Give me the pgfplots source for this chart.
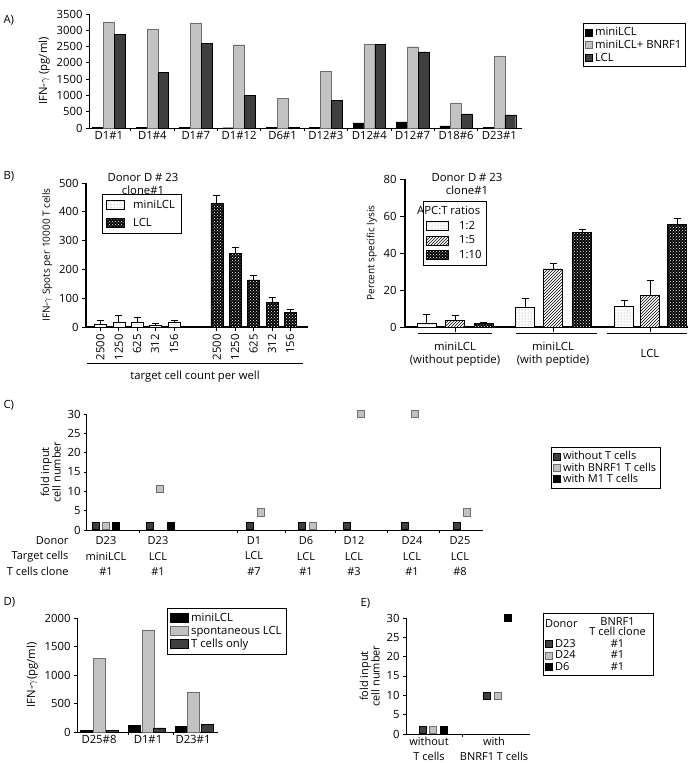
\documentclass[border=0pt]{standalone}
\usepackage{fontspec}
\setmainfont{Open Sans}
\usepackage{pgfplots}
\pgfplotsset{compat=1.18}
\usetikzlibrary{patterns}

\definecolor{lg}{HTML}{C2C2C2}
\definecolor{lgd}{HTML}{6E6E6E}
\definecolor{dg}{HTML}{3F3F3F}
\newcommand\fs{\fontsize{11.3}{13}\selectfont}
\newcommand\fsl{\fontsize{11}{15.5}\selectfont}

\pgfplotsset{
  panel/.style={scale only axis, clip=false, axis x line*=bottom, axis y line*=left,
    axis line style={-, line width=1pt}, tick align=outside, major tick length=4pt,
    tick style={black, line width=0.8pt}, tick label style={font=\fs}, label style={font=\fs},
    /pgf/number format/assume math mode=true, /pgf/number format/set thousands separator={},
    legend style={font=\fs, draw=black, line width=0.8pt, legend cell align=left, inner sep=2pt}},
  box/.style={legend image code/.code={\draw[##1,line width=0.6pt] (0pt,-3.5pt) rectangle (7pt,3.5pt);}},
  bigbox/.style={legend image code/.code={\draw[##1,line width=0.8pt] (0pt,-4.5pt) rectangle (18pt,4.5pt);}},
  widebox/.style={legend image code/.code={\draw[##1,line width=0.8pt] (0pt,-4.5pt) rectangle (22pt,4.5pt);}},
  errs/.style={error bars/.cd, y dir=plus, y explicit,
    error bar style={black, line width=0.8pt}, error mark options={black, line width=0.8pt, mark size=3.5pt, rotate=90}},
  sq/.style={only marks, mark=square*, mark size=3.6pt, forget plot},
}
\tikzset{
  dotfill/.style={fill=white, draw=black, postaction={pattern=dots, pattern color=gray}},
  hatchfill/.style={fill=white, draw=black, postaction={pattern=north east lines}},
  checkfill/.style={fill=black, draw=black, postaction={pattern=crosshatch dots, pattern color=white}},
}
\newcommand\cw[1]{\makebox[64pt]{#1}}

\begin{document}
\begin{tikzpicture}
\useasboundingbox (0,0) rectangle (700pt,-763pt);

% ---------- A
\node[anchor=west,font=\fs] at (0pt,-20pt) {A)};
\begin{axis}[panel, box, at={(89pt,-128pt)}, anchor=south west, width=433pt, height=114pt,
  xmin=-0.46, xmax=9.52, ymin=0, ymax=3500, ytick={0,500,...,3500},
  xtick={0.5,1.5,...,8.5}, xticklabels={}, major tick length=3pt,
  extra x ticks={0,...,9}, extra x tick style={major tick length=0pt},
  extra x tick labels={D1\#1,D1\#4,D1\#7,D1\#12,D6\#1,D12\#3,D12\#4,D12\#7,D18\#6,D23\#1},
  ylabel={IFN-$\gamma$ (pg/ml)},
  legend style={at={(1.141,0.921)}, anchor=north west, row sep=-1pt}]
\addplot[ybar, bar width=0.25, bar shift=0pt, fill=black, draw=black, forget plot] coordinates {
 (-0.25,30) (0.75,30) (1.75,30) (2.75,8) (3.75,30) (4.75,30) (5.75,154) (6.75,185) (7.75,62) (8.75,10)};
\addplot[ybar, bar width=0.25, bar shift=0pt, fill=lg, draw=lgd, forget plot] coordinates {
 (0,3244) (1,3029) (2,3224) (3,2556) (4,903) (5,1745) (6,2567) (7,2495) (8,750) (9,2218)};
\addplot[ybar, bar width=0.25, bar shift=0pt, fill=dg, draw=black, forget plot] coordinates {
 (0.25,2885) (1.25,1704) (2.25,2597) (3.25,996) (4.25,30) (5.25,842) (6.25,2567) (7.25,2341) (8.25,431) (9.25,400)};
\addlegendimage{fill=black, draw=black}\addlegendentry{miniLCL}
\addlegendimage{fill=lg, draw=lgd}\addlegendentry{miniLCL+ BNRF1}
\addlegendimage{fill=dg, draw=black}\addlegendentry{LCL}
\end{axis}

% ---------- B left
\node[anchor=west,font=\fs] at (0pt,-176pt) {B)};
\node[align=center,font=\fs] at (143pt,-184pt) {Donor D \# 23\\clone\#1};
\begin{axis}[panel, bigbox, at={(86pt,-327pt)}, anchor=south west, width=222pt, height=144pt,
  axis line style={line width=1.3pt},
  xmin=0, xmax=222, ymin=0, ymax=500, ytick={0,100,...,500},
  xtick={14.3,32.8,51,69,88,130.8,149,167.5,186,204},
  xticklabels={2500,1250,625,312,156,2500,1250,625,312,156},
  xticklabel style={rotate=90, anchor=east},
  ylabel={IFN-$\gamma$ Spots per 10000 T cells}, ylabel style={font=\fontsize{10}{12}\selectfont},
  legend style={at={(0.072,0.924)}, anchor=north west, row sep=4pt, inner sep=4pt}]
\addplot[ybar, bar width=12, bar shift=0pt, dotfill, forget plot, errs] coordinates {
 (14.3,9) +- (0,14) (32.8,17) +- (0,23) (51,17) +- (0,18) (69,6) +- (0,6) (88,17) +- (0,6)};
\addplot[ybar, bar width=12, bar shift=0pt, checkfill, forget plot, errs] coordinates {
 (130.8,430) +- (0,27) (149,255) +- (0,20) (167.5,164) +- (0,16) (186,86) +- (0,17) (204,50) +- (0,10)};
\addlegendimage{dotfill}\addlegendentry{\hspace*{6pt}miniLCL}
\addlegendimage{checkfill}\addlegendentry{\hspace*{6pt}LCL}
\end{axis}
\draw[line width=0.8pt] (87pt,-363pt) -- (303pt,-363pt);
\node[font=\fs] at (195pt,-377pt) {target cell count per well};

% ---------- B right
\node[align=center,font=\fs] at (467pt,-184pt) {Donor D \# 23\\clone\#1};
\begin{axis}[panel, widebox, at={(405pt,-327pt)}, anchor=south west, width=283pt, height=148pt,
  axis line style={line width=1.3pt}, major tick length=5pt,
  xmin=0, xmax=283, ymin=0, ymax=80, ytick={0,20,...,80},
  xtick={50,148,245}, xticklabels={},
  ylabel={Percent specific lysis}, ylabel style={font=\fontsize{10}{12}\selectfont},
  legend style={at={(0.0636,0.851)}, anchor=north west, row sep=1pt, inner sep=3pt}]
\addplot[ybar, bar width=19, bar shift=0pt, dotfill, forget plot, errs] coordinates {
 (21.5,2.2) +- (0,4.5) (120,10.7) +- (0,4.9) (219,11) +- (0,3.5)};
\addplot[ybar, bar width=19, bar shift=0pt, hatchfill, forget plot, errs] coordinates {
 (50,3.6) +- (0,2.6) (148,31.5) +- (0,2.7) (245,17.2) +- (0,8)};
\addplot[ybar, bar width=19, bar shift=0pt, checkfill, forget plot, errs] coordinates {
 (78.5,2) +- (0,0.4) (177,51) +- (0,1.7) (272,55.4) +- (0,3.2)};
\addlegendimage{empty legend}\addlegendentry{\hspace*{-34pt}APC:T ratios}
\addlegendimage{dotfill}\addlegendentry{\hspace*{8pt}1:2}
\addlegendimage{hatchfill}\addlegendentry{\hspace*{8pt}1:5}
\addlegendimage{checkfill}\addlegendentry{\hspace*{8pt}1:10}
\end{axis}
\draw[line width=0.8pt] (418pt,-333pt) -- (492pt,-333pt);
\draw[line width=0.8pt] (516pt,-333pt) -- (597pt,-333pt);
\draw[line width=0.8pt] (607pt,-333pt) -- (687pt,-333pt);
\node[align=center,font=\fs,anchor=north] at (455pt,-339pt) {miniLCL\\(without peptide)};
\node[align=center,font=\fs,anchor=north] at (553pt,-339pt) {miniLCL\\(with peptide)};
\node[font=\fs] at (650pt,-353pt) {LCL};

% ---------- C
\node[anchor=west,font=\fs] at (0pt,-405pt) {C)};
\begin{axis}[panel, box, at={(87pt,-530pt)}, anchor=south west, width=396pt, height=116pt,
  xmin=0, xmax=396, ymin=0, ymax=30, ytick={0,5,...,30},
  xtick={52,150,198,248,300,352}, xticklabels={}, major tick length=3pt,
  extra x ticks={19,71,167,219,267,325,373},
  extra x tick labels={D23\\miniLCL\\\#1,D23\\LCL\\\#1,D1\\LCL\\\#7,D6\\LCL\\\#1,D12\\LCL\\\#3,D24\\LCL\\\#1,D25\\LCL\\\#8},
  extra x tick style={major tick length=0pt, tick label style={align=center, font=\fsl, yshift=-3pt}},
  ylabel={fold input\\cell number}, ylabel style={align=center, font=\fontsize{11}{11.5}\selectfont},
  legend style={at={(1.1717,0.7155)}, anchor=north west, row sep=-2.5pt, font=\fontsize{11}{12}\selectfont}]
\addplot[sq, mark options={fill=dg, draw=black}] coordinates {
 (9,1.2) (63,1.2) (163,1.2) (215,1.2) (260,1.2) (318,1.2) (370,1.2)};
\addplot[sq, mark options={fill=lg, draw=lgd}] coordinates {
 (19,1.2) (73,10.6) (174,4.6) (226,1.2) (274,30) (328,30) (380,4.6)};
\addplot[sq, mark options={fill=black, draw=black}] coordinates {(29,1.2) (84,1.2)};
\addlegendimage{fill=dg, draw=black}\addlegendentry{without T cells}
\addlegendimage{fill=lg, draw=lgd}\addlegendentry{with BNRF1 T cells}
\addlegendimage{fill=black, draw=black}\addlegendentry{with M1 T cells}
\end{axis}
\node[anchor=north east, align=right, font=\fsl, inner sep=0.333em] at (72pt,-533pt) {Donor\\Target cells\\T cells clone};

% ---------- D
\node[anchor=west,font=\fs] at (0pt,-602pt) {D)};
\begin{axis}[panel, bigbox, at={(77pt,-732pt)}, anchor=south west, width=141pt, height=114pt,
  xmin=0, xmax=141, ymin=0, ymax=2000, ytick={0,500,...,2000},
  xtick={51,96}, xticklabels={}, major tick length=3pt,
  extra x ticks={22,71,116}, extra x tick labels={D25\#8,D1\#1,D23\#1},
  extra x tick style={major tick length=0pt},
  ylabel={IFN-$\gamma$(pg/ml)},
  legend style={at={(0.638,1.088)}, anchor=north west, row sep=-1pt, inner sep=3pt}]
\addplot[ybar, bar width=12, bar shift=0pt, fill=black, draw=black, forget plot] coordinates {(9,29) (57,112) (104,100)};
\addplot[ybar, bar width=12, bar shift=0pt, fill=lg, draw=lgd, forget plot] coordinates {(22,1294) (71,1794) (116,694)};
\addplot[ybar, bar width=12, bar shift=0pt, fill=dg, draw=black, forget plot] coordinates {(35,29) (82,71) (130,135)};
\addlegendimage{fill=black, draw=black}\addlegendentry{miniLCL}
\addlegendimage{fill=lg, draw=lgd}\addlegendentry{spontaneous LCL}
\addlegendimage{fill=dg, draw=black}\addlegendentry{T cells only}
\end{axis}

% ---------- E
\node[anchor=west,font=\fs] at (357pt,-603pt) {E)};
\begin{axis}[panel, box, at={(406pt,-734pt)}, anchor=south west, width=124pt, height=116pt,
  xmin=0, xmax=124, ymin=0, ymax=30, ytick={0,5,...,30},
  xtick={56}, xticklabels={}, major tick length=3pt,
  extra x ticks={23,88}, extra x tick labels={without\\T cells,with\\BNRF1 T cells},
  extra x tick style={major tick length=0pt, tick label style={align=center, font=\fontsize{11}{14.5}\selectfont}},
  ylabel={fold input\\cell number}, ylabel style={align=center, font=\fontsize{11}{11.5}\selectfont},
  legend columns=2,
  legend style={at={(1.105,1.043)}, anchor=north west, row sep=-2pt, font=\fontsize{11}{12}\selectfont,
    /tikz/every even column/.append style={column sep=4pt}}]
\addplot[sq, mark options={fill=dg, draw=black}] coordinates {(17,1.2) (81,10)};
\addplot[sq, mark options={fill=lg, draw=lgd}] coordinates {(27,1.2) (92,10)};
\addplot[sq, mark options={fill=black, draw=black}] coordinates {(38,1.2) (102,30)};
\addlegendimage{empty legend}\addlegendentry{\hspace*{-10pt}\raisebox{6.5pt}{Donor}}
\addlegendimage{empty legend}\addlegendentry{\cw{\begin{tabular}[b]{@{}c@{}}BNRF1\\[-2pt]T cell clone\end{tabular}}}
\addlegendimage{fill=dg, draw=black}\addlegendentry{D23}
\addlegendimage{empty legend}\addlegendentry{\cw{\#1}}
\addlegendimage{fill=lg, draw=lgd}\addlegendentry{D24}
\addlegendimage{empty legend}\addlegendentry{\cw{\#1}}
\addlegendimage{fill=black, draw=black}\addlegendentry{D6}
\addlegendimage{empty legend}\addlegendentry{\cw{\#1}}
\end{axis}
\end{tikzpicture}
\end{document}
